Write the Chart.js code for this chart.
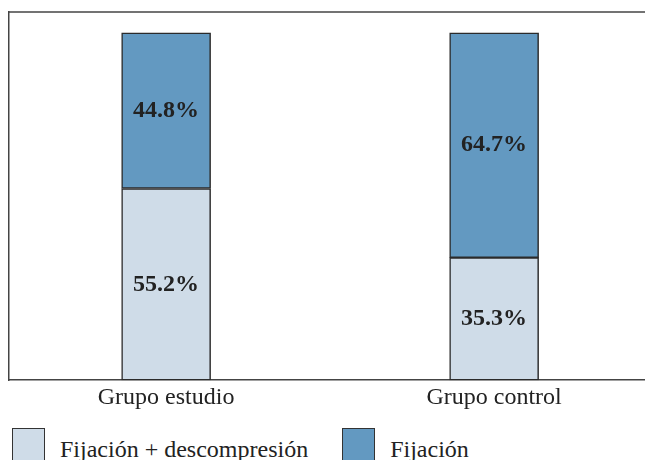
<!DOCTYPE html>
<html>
<head>
<meta charset="utf-8">
<script src="https://cdn.jsdelivr.net/npm/chart.js@4.4.1/dist/chart.umd.min.js"></script>
<style>
  html, body { margin: 0; padding: 0; background: #fff; }
  .wrap { position: relative; width: 645px; height: 460px; overflow: hidden; }
  .canvas-box { position: absolute; left: 0; top: 0; width: 645px; height: 420px; }
  #legenda {
    position: absolute; left: 12px; top: 428px;
    display: flex; align-items: flex-start;
    font-family: 'Liberation Serif', 'Times New Roman', serif;
    font-size: 24px; color: #222;
  }
  .item { display: flex; align-items: flex-start; margin-right: 34px; }
  .caixa { width: 31px; height: 31px; border: 1.5px solid #333; margin-right: 15px; }
  .texto { line-height: 33px; position: relative; top: 5px; white-space: nowrap; }
</style>
</head>
<body>
<div class="wrap">
  <div class="canvas-box"><canvas id="grafico"></canvas></div>
  <div id="legenda"></div>
</div>
<script>
const categorias = ['Grupo estudio', 'Grupo control'];
const fijacionDescompresion = [55.2, 35.3];
const fijacion = [44.8, 64.7];
const nomesSeries = ['Fijación + descompresión', 'Fijación'];
const coresSeries = ['#cfdce8', '#6399c1'];

const serifFont = "'Liberation Serif', 'Times New Roman', serif";

const rotulosBarras = {
  id: 'rotulosBarras',
  afterDatasetsDraw(chart) {
    const ctx = chart.ctx;
    ctx.save();
    ctx.font = `bold 24px ${serifFont}`;
    ctx.fillStyle = '#222';
    ctx.textAlign = 'center';
    ctx.textBaseline = 'middle';
    chart.data.datasets.forEach((ds, i) => {
      const meta = chart.getDatasetMeta(i);
      meta.data.forEach((bar, j) => {
        const { x, y, base } = bar.getProps(['x', 'y', 'base'], true);
        ctx.fillText(`${ds.data[j].y.toFixed(1)}%`, x, (y + base) / 2);
      });
    });
    ctx.restore();
  }
};

const bordaTopo = {
  id: 'bordaTopo',
  afterDraw(chart) {
    const { ctx, chartArea } = chart;
    ctx.save();
    ctx.strokeStyle = '#444';
    ctx.lineWidth = 1.5;
    ctx.beginPath();
    ctx.moveTo(chartArea.left, chartArea.top);
    ctx.lineTo(chartArea.right, chartArea.top);
    ctx.stroke();
    ctx.restore();
  }
};

const series = [fijacionDescompresion, fijacion];

const chart = new Chart(document.getElementById('grafico'), {
  type: 'bar',
  data: {
    datasets: series.map((valores, i) => ({
      label: nomesSeries[i],
      data: valores.map((v, j) => ({ x: j, y: v })),
      backgroundColor: coresSeries[i],
      borderColor: '#2b2b2b',
      borderWidth: 1.5,
      borderSkipped: false,
      barThickness: 89
    }))
  },
  options: {
    responsive: true,
    maintainAspectRatio: false,
    animation: false,
    layout: { padding: { left: 9, right: 0, top: 12, bottom: 5 } },
    plugins: {
      legend: { display: false },
      tooltip: { enabled: false }
    },
    scales: {
      x: {
        type: 'linear',
        stacked: true,
        offset: false,
        min: -0.479,
        max: 1.46,
        grid: { display: false, tickLength: 0 },
        border: { display: true, color: '#444', width: 1.5 },
        afterBuildTicks: (axis) => {
          axis.ticks = categorias.map((c, i) => ({ value: i }));
        },
        ticks: {
          color: '#222',
          autoSkip: false,
          maxRotation: 0,
          padding: 3,
          font: { family: serifFont, size: 24 },
          callback: (value) => categorias[value] ?? ''
        }
      },
      y: {
        stacked: true,
        min: 0,
        max: 106,
        grid: { display: false, tickLength: 0 },
        border: { display: true, color: '#444', width: 1.5 },
        ticks: { display: false }
      }
    }
  },
  plugins: [rotulosBarras, bordaTopo]
});

const legenda = document.getElementById('legenda');
chart.data.datasets.forEach(ds => {
  const item = document.createElement('div');
  item.className = 'item';
  const caixa = document.createElement('div');
  caixa.className = 'caixa';
  caixa.style.background = ds.backgroundColor;
  const texto = document.createElement('span');
  texto.className = 'texto';
  texto.textContent = ds.label;
  item.appendChild(caixa);
  item.appendChild(texto);
  legenda.appendChild(item);
});
</script>
</body>
</html>
